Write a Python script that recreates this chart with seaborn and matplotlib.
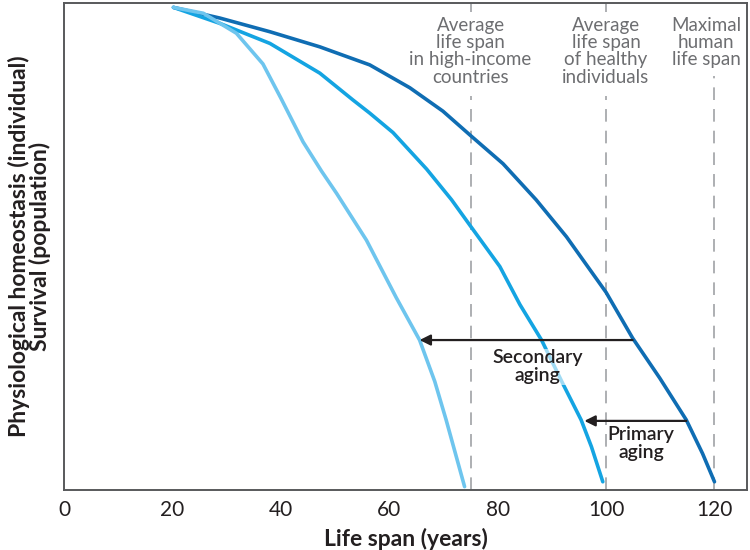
import pandas as pd
import matplotlib
matplotlib.use('Agg')
from matplotlib import pyplot as plt
import seaborn as sns

sns.set_style('white')
plt.rcParams['font.family'] = ['Lato', 'DejaVu Sans']

# Curves (age in years, relative level 0-100)
age_dark = [20.2, 28.8, 38.0, 47.2, 56.4, 63.8, 69.9, 75.2, 81.0, 87.1, 92.7, 100.0, 104.9, 109.9, 114.8, 117.8, 120.0]
lvl_dark = [99.1, 96.9, 94.1, 91.0, 87.3, 82.6, 77.8, 72.6, 67.0, 59.6, 52.0, 40.6, 31.2, 23.0, 14.4, 7.5, 1.7]

age_mid = [20.2, 28.8, 38.0, 47.2, 53.3, 56.4, 60.7, 66.9, 71.5, 74.8, 80.4, 84.1, 88.1, 92.0, 95.4, 97.3, 99.4]
lvl_mid = [99.1, 95.8, 91.7, 85.6, 80.1, 77.4, 73.4, 65.9, 59.6, 54.5, 45.9, 38.1, 30.8, 21.9, 14.4, 8.9, 1.7]

age_light = [20.2, 25.7, 31.8, 36.7, 40.0, 44.1, 47.5, 50.3, 55.8, 61.3, 65.6, 68.4, 70.5, 73.9]
lvl_light = [99.1, 97.9, 93.8, 87.5, 80.5, 71.5, 65.5, 60.9, 51.3, 39.5, 30.8, 22.3, 14.4, 0.7]

curve_names = ['maximal', 'healthy', 'high-income']
curve_colors = ['#0f6db3', '#14a4e2', '#6ec5ee']

ref_ages = [75, 100, 120]
ref_labels = ['Average\nlife span\nin high-income\ncountries',
              'Average\nlife span\nof healthy\nindividuals',
              'Maximal\nhuman\nlife span']
ref_text_x = [75, 100, 118.5]

x_ticks = [0, 20, 40, 60, 80, 100, 120]

df = pd.concat([
    pd.DataFrame({'age': age_dark, 'level': lvl_dark, 'curve': curve_names[0]}),
    pd.DataFrame({'age': age_mid, 'level': lvl_mid, 'curve': curve_names[1]}),
    pd.DataFrame({'age': age_light, 'level': lvl_light, 'curve': curve_names[2]}),
])

fig = plt.figure(figsize=(7.5, 5.5), dpi=100)
ax = fig.add_axes([0.0853, 0.109, 0.9107, 0.8855])

# dashed reference lines, broken where the labels sit
dash = dict(color='#a7a9ac', lw=1.3, dashes=(7, 5), zorder=1)
for a in ref_ages:
    if a == 120:
        ax.axvline(a, ymin=0, ymax=0.85, **dash)
    else:
        ax.axvline(a, ymin=0, ymax=0.81, **dash)
        ax.axvline(a, ymin=0.982, ymax=1, **dash)

sns.lineplot(data=df, x='age', y='level', hue='curve', palette=curve_colors,
             hue_order=curve_names, sort=False, estimator=None, lw=2.6,
             legend=False, ax=ax, zorder=3)

for tx, lab in zip(ref_text_x, ref_labels):
    ax.text(tx, 97.2, lab, ha='center', va='top', fontsize=13.5, color='#6d6e71',
            linespacing=1.02, zorder=4)

# arrows
arrow = dict(arrowstyle='-|>', color='#231f20', lw=1.6, mutation_scale=16, shrinkA=0, shrinkB=0)
ax.annotate('', xy=(65.6, 30.8), xytext=(104.9, 30.8), arrowprops=arrow, zorder=5)
ax.annotate('', xy=(96.0, 14.2), xytext=(114.8, 14.2), arrowprops=arrow, zorder=5)

ax.text(87.4, 25.3, 'Secondary\naging', ha='center', va='center', fontsize=14,
        fontweight='semibold', color='#231f20', linespacing=1.05, zorder=4,
        bbox=dict(facecolor='white', edgecolor='none', pad=0.5, alpha=0.6))
ax.text(106.5, 9.6, 'Primary\naging', ha='center', va='center', fontsize=14,
        fontweight='semibold', color='#231f20', linespacing=1.05, zorder=4,
        bbox=dict(facecolor='white', edgecolor='none', pad=0.5))

ax.set_xlim(0, 126)
ax.set_ylim(0, 100)
ax.set_xticks(x_ticks)
ax.set_yticks([])
ax.tick_params(axis='x', length=0, pad=7, labelsize=15, labelcolor='#231f20')
for s in ax.spines.values():
    s.set_color('#58595b')
    s.set_linewidth(1.4)

ax.set_xlabel('Life span (years)', fontsize=16.5, fontweight='bold', color='#231f20', labelpad=6)
ax.set_ylabel('Physiological homeostasis (individual)\nSurvival (population)', fontsize=16.5,
              fontweight='bold', color='#231f20', linespacing=0.98, labelpad=9)

fig.savefig('out.png', dpi=100)
